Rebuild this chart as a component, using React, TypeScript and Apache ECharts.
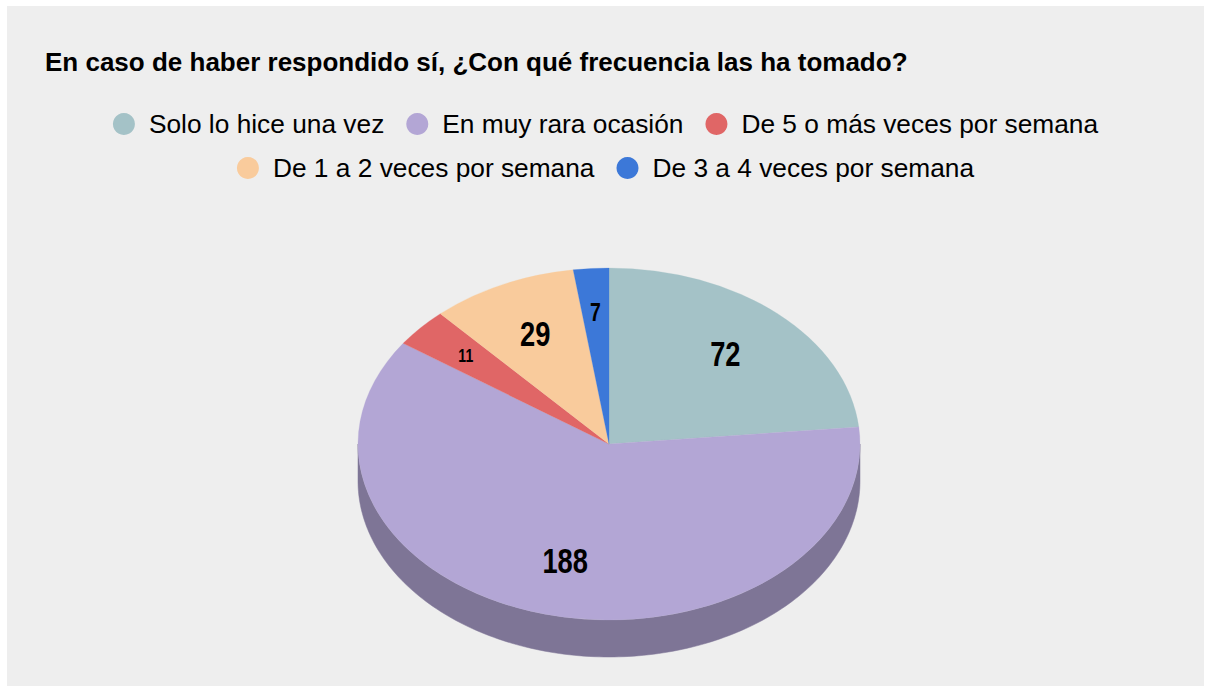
import React, { useEffect, useRef } from 'react';
import * as echarts from 'echarts';

const titleText = 'En caso de haber respondido sí, ¿Con qué frecuencia las ha tomado?';
const categories = [
  'Solo lo hice una vez',
  'En muy rara ocasión',
  'De 5 o más veces por semana',
  'De 1 a 2 veces por semana',
  'De 3 a 4 veces por semana',
];
const values = [72, 188, 11, 29, 7];
const colors = ['#a4c2c7', '#b3a6d5', '#e06666', '#f9cb9c', '#3c78d8'];
const labelSizes = [35, 35, 18, 35, 25];
const labelRadius = [0.69, 0.69, 0.76, 0.69, 0.75];

const FONT = '"Liberation Sans", Arial, sans-serif';
const CX = 602;
const CY = 438;
const RX = 251;
const RY = 176;
const DEPTH = 37;

const total = values.reduce((a, b) => a + b, 0);
const startOf = (i: number) => values.slice(0, i).reduce((a, b) => a + b, 0);

function darken(hex: string, f: number) {
  const n = parseInt(hex.slice(1), 16);
  const r = Math.round(((n >> 16) & 255) * f);
  const g = Math.round(((n >> 8) & 255) * f);
  const b = Math.round((n & 255) * f);
  return `rgb(${r},${g},${b})`;
}

export default function App() {
  const ref = useRef<HTMLDivElement>(null);
  useEffect(() => {
    document.body.style.margin = '0';
    const chart = echarts.init(ref.current!, null, { renderer: 'svg' });

    const sideSeries: any = {
      type: 'custom',
      coordinateSystem: 'none',
      z: 1,
      silent: true,
      data: values,
      renderItem: (params: any, api: any) => {
        const i = params.dataIndex;
        const v = api.value(0);
        const s = -Math.PI / 2 + (startOf(i) / total) * Math.PI * 2;
        const e = s + (v / total) * Math.PI * 2;
        const pieces: any[] = [];
        for (const off of [0, -2 * Math.PI, 2 * Math.PI]) {
          const a = Math.max(s + off, 0);
          const b = Math.min(e + off, Math.PI);
          if (b > a) {
            const pts: number[][] = [];
            const steps = Math.max(4, Math.ceil((b - a) / 0.02));
            for (let k = 0; k <= steps; k++) {
              const t = a + ((b - a) * k) / steps;
              pts.push([CX + RX * Math.cos(t), CY + RY * Math.sin(t)]);
            }
            for (let k = steps; k >= 0; k--) {
              const t = a + ((b - a) * k) / steps;
              pts.push([CX + RX * Math.cos(t), CY + RY * Math.sin(t) + DEPTH]);
            }
            pieces.push({
              type: 'polygon',
              shape: { points: pts },
              style: { fill: darken(colors[i], 0.705), stroke: darken(colors[i], 0.705), lineWidth: 0.5 },
            });
          }
        }
        return { type: 'group', children: pieces };
      },
    };

    const topSeries = categories.map((name, i) => ({
      type: 'custom',
      name,
      coordinateSystem: 'none',
      z: 2,
      itemStyle: { color: colors[i] },
      data: [values[i]],
      renderItem: (_params: any, api: any) => {
        const v = api.value(0);
        const s = -Math.PI / 2 + (startOf(i) / total) * Math.PI * 2;
        const e = s + (v / total) * Math.PI * 2;
        const mid = (s + e) / 2;
        const f = labelRadius[i];
        return {
          type: 'group',
          children: [
            {
              type: 'group',
              x: CX,
              y: CY,
              scaleY: RY / RX,
              children: [
                {
                  type: 'sector',
                  shape: { cx: 0, cy: 0, r: RX, r0: 0, startAngle: s, endAngle: e, clockwise: true },
                  style: { fill: colors[i], stroke: colors[i], lineWidth: 0.3 },
                },
              ],
            },
            {
              type: 'text',
              z2: 100,
              x: CX + f * RX * Math.cos(mid),
              y: CY + f * RY * Math.sin(mid),
              scaleX: 0.78,
              style: {
                text: String(v),
                fill: '#000',
                fontSize: labelSizes[i],
                fontWeight: 'bold',
                fontFamily: FONT,
                align: 'center',
                verticalAlign: 'middle',
              },
            },
          ],
        };
      },
    }));

    const legendCommon = {
      icon: 'circle',
      itemWidth: 40,
      itemHeight: 22,
      itemGap: 22,
      padding: 0,
      left: 'center',
      selectedMode: false,
      textStyle: { fontSize: 26.3, fontFamily: FONT, color: '#000' },
    };

    chart.setOption({
      animation: false,
      backgroundColor: '#eeeeee',
      color: colors,
      title: {
        text: titleText,
        left: 38,
        top: 43,
        padding: 0,
        textStyle: { fontSize: 26, fontWeight: 'bold', fontFamily: FONT, color: '#000' },
      },
      legend: [
        { ...legendCommon, top: 105, data: categories.slice(0, 3) },
        { ...legendCommon, top: 149, data: categories.slice(3) },
      ],
      series: [sideSeries, ...topSeries],
    });
    return () => chart.dispose();
  }, []);
  return (
    <div
      ref={ref}
      style={{ position: 'absolute', left: 7, top: 6, width: 1197, height: 680 }}
    />
  );
}
